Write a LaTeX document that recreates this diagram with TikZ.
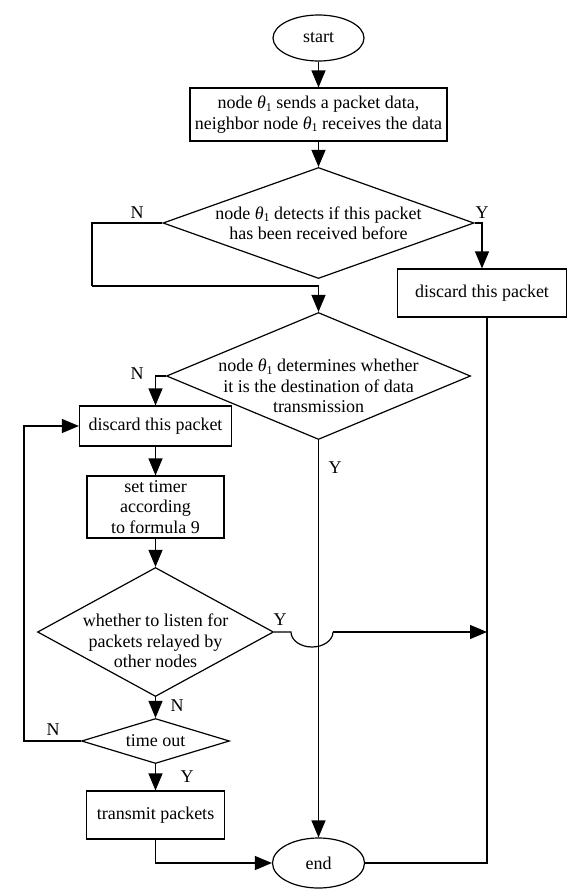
\documentclass[tikz,border=0pt]{standalone}
\usepackage{fontspec}
\setmainfont{Liberation Serif}
\usetikzlibrary{shapes.geometric,arrows.meta}
\newcommand{\thone}{{\itshape θ}\raisebox{-0.35ex}{\fontsize{12}{12}\selectfont 1}}
\begin{document}
\begin{tikzpicture}[x=1pt,y=-1pt,
  flow/.style={line width=1.2pt,-{Triangle[length=17pt,width=14pt]}},
  plain/.style={line width=1.2pt},
  heavy/.style={line width=2.6pt},
  box/.style={draw,line width=1.2pt,rectangle,inner sep=0pt,align=center,font=\fontsize{18}{20.5}\selectfont},
  term/.style={draw,ellipse,line width=1.2pt,inner sep=0pt,font=\fontsize{18}{20.5}\selectfont},
  dia/.style={draw,diamond,line width=1.2pt,inner sep=0pt},
  txt/.style={align=center,inner sep=0pt,font=\fontsize{18}{20.5}\selectfont},
  lab/.style={inner sep=0pt,font=\fontsize{18}{20.5}\selectfont}]
\useasboundingbox (0,0) rectangle (576,889);
% nodes
\node[term,minimum width=91pt,minimum height=46pt] (start) at (318.5,38) {start};
\node[box,minimum width=257pt,minimum height=53pt] (b1) at (318.5,114.5) {node \thone\ sends a packet data,\\neighbor node \thone\ receives the data};
\node[dia,minimum width=311pt,minimum height=111pt] (d1) at (318.5,223) {};
\node[txt] (d1t) at (318.5,223) {node \thone\ detects if this packet\\has been received before};
\node[box,minimum width=169pt,minimum height=48pt] (x1) at (482,293) {discard this packet};
\node[dia,minimum width=304pt,minimum height=127pt] (d2) at (318.5,376) {};
\node[txt] (d2t) at (318.5,386) {node \thone\ determines whether\\it is the destination of data\\transmission};
\node[box,minimum width=152pt,minimum height=40pt] (x2) at (155.5,426) {discard this packet};
\node[box,minimum width=137pt,minimum height=62pt] (tm) at (155.5,507) {set timer\\according\\to formula 9};
\node[dia,minimum width=236pt,minimum height=129pt] (d3) at (155.5,632) {};
\node[txt] (d3t) at (155.5,641) {whether to listen for\\packets relayed by\\other nodes};
\node[dia,minimum width=148pt,minimum height=45pt] (to) at (155.5,741) {};
\node[txt] (tot) at (155.5,741) {time out};
\node[box,minimum width=138pt,minimum height=48pt] (tr) at (155.5,815) {transmit packets};
\node[term,minimum width=92pt,minimum height=50pt] (end) at (318.5,863) {end};
% coordinates
\coordinate (c1) at (92,223);
\coordinate (c2) at (92,286);
\coordinate (c3) at (318.5,286);
\coordinate (c5) at (487,863);
\coordinate (c6) at (24,741);
\coordinate (c7) at (24,426);
\coordinate (j1) at (291,632);
\coordinate (c8) at (487,632);
% connectors
\draw[flow] (start) -- (b1);
\draw[flow] (b1) -- (d1);
\draw[plain] (d1.west) -- (c1) -- (c2);
\draw[heavy] (c2) -- (c3);
\draw[flow] (c3) -- (d2.north);
\draw[flow] (d1.east) -| (x1.north);
\draw[plain] (x1.south -| c5) -- (c5) -- (end.east);
\draw[flow] (d2.west) -| (x2.north);
\draw[flow] (d2.south) -- (end.north);
\draw[flow] (x2) -- (tm);
\draw[flow] (tm) -- (d3.north);
\draw[flow] (d3.south) -- (to.north);
\draw[flow] (to.south) -- (tr.north);
\draw[flow] (to.west) -- (c6) -- (c7) -- (x2.west);
\draw[flow] (tr.south) |- (end.west);
\draw[plain] (d3.east) -- (j1) arc[start angle=180,end angle=360,x radius=21pt,y radius=15pt] coordinate (j2);
\draw[flow] (j2) -- (c8);
% labels
\node[lab] (n1) at (137,213) {N};
\node[lab] (y1) at (482,213) {Y};
\node[lab] (n2) at (137,374) {N};
\node[lab] (y2) at (335,468) {Y};
\node[lab] (y3) at (280,620) {Y};
\node[lab] (n3) at (177,706) {N};
\node[lab] (n4) at (53,730) {N};
\node[lab] (y4) at (187,777) {Y};
\end{tikzpicture}
\end{document}
